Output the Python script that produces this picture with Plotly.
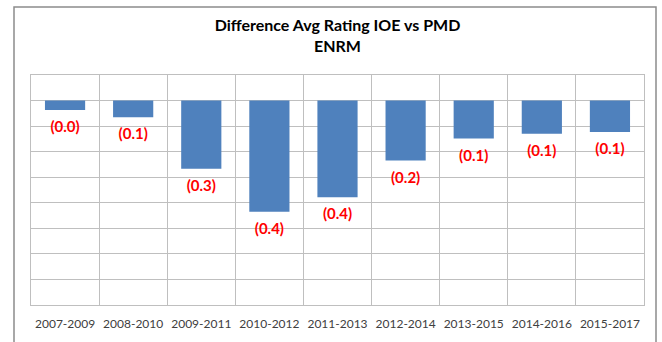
import plotly.graph_objects as go

# Rolling three-year periods and the IOE minus PMD rating difference
periods = ["2007-2009", "2008-2010", "2009-2011", "2010-2012", "2011-2013",
           "2012-2014", "2013-2015", "2014-2016", "2015-2017"]
difference = [-0.037, -0.065, -0.267, -0.435, -0.378, -0.235, -0.148, -0.130, -0.123]

# Accounting-style labels: negatives shown in parentheses
labels = [f"({abs(v):.1f})" if v < 0 else f"{v:.1f}" for v in difference]

W, H = 662, 342
L, R, T, B = 31, 18, 75, 37
pw, ph = W - L - R, H - T - B

fig = go.Figure()
fig.add_trace(go.Bar(
    x=periods,
    y=difference,
    marker=dict(color="#4f81bd", line=dict(width=0)),
    width=0.59,
    hoverinfo="x+y",
))
# Value labels hung just below each bar end
fig.add_trace(go.Scatter(
    x=periods,
    y=difference,
    mode="markers+text",
    text=labels,
    textposition="bottom center",
    textfont=dict(family="Lato", size=15, color="#ff0000", weight="bold"),
    marker=dict(size=16, opacity=0),
    hoverinfo="skip",
    cliponaxis=False,
))

grid = "#bfbfbf"
fig.update_layout(
    width=W, height=H,
    margin=dict(l=L, r=R, t=T, b=B, autoexpand=False),
    paper_bgcolor="white",
    plot_bgcolor="white",
    showlegend=False,
    title=dict(
        text="<b>Difference Avg Rating IOE vs PMD</b><br><b>ENRM</b>",
        x=(L + pw / 2) / W, xanchor="center",
        yref="container", y=1 - 31 / H, yanchor="top",
        font=dict(family="Lato", size=16, color="#000000"),
    ),
    xaxis=dict(
        type="category",
        range=[-0.5, len(periods) - 0.5],
        tickson="boundaries",
        showgrid=True, gridcolor=grid, gridwidth=1,
        showline=True, linecolor=grid, mirror=True,
        ticks="", ticklen=0,
        tickangle=0, automargin=False,
        ticklabelstandoff=8,
        tickfont=dict(family="Lato", size=12, color="#404040"),
        fixedrange=True,
    ),
    yaxis=dict(
        range=[-0.8, 0.1],
        dtick=0.1,
        showticklabels=False,
        showgrid=True, gridcolor=grid, gridwidth=1,
        zeroline=True, zerolinecolor=grid, zerolinewidth=1,
        showline=True, linecolor=grid, mirror=True,
        ticks="", automargin=False,
        fixedrange=True,
    ),
    bargap=0.41,
)

# Chart-area frame around title and plot
fig.add_shape(
    type="rect", xref="paper", yref="paper", layer="below",
    x0=(14 - L) / pw, x1=(656 - L) / pw,
    y0=-(H + 5 - (T + ph)) / ph, y1=(T + ph - 7) / ph,
    line=dict(color="#8c8c8c", width=1.5), fillcolor="rgba(0,0,0,0)",
)

fig.write_html("out.html")
